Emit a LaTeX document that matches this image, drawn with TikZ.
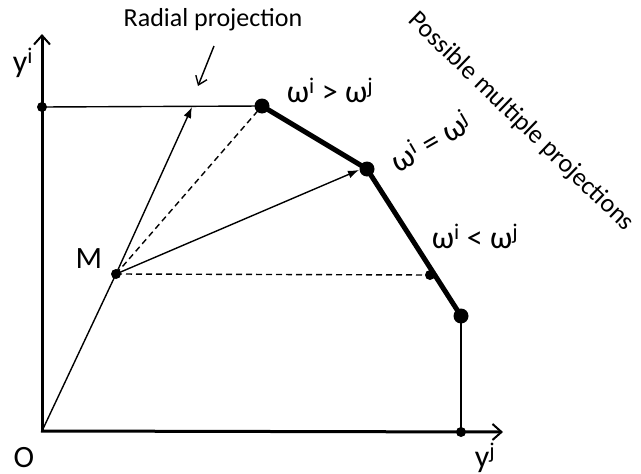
\documentclass[tikz,border=0pt]{standalone}
\usepackage{fontspec}
\setmainfont{Carlito}
\usetikzlibrary{arrows.meta}
\begin{document}
\begin{tikzpicture}[x=1pt,y=-1pt,
  axis/.style={line width=3pt,-{Straight Barb[length=9pt,width=16pt,line width=2pt]}},
  thinline/.style={line width=1.4pt},
  thickline/.style={line width=5pt},
  dashline/.style={line width=1.4pt,dash pattern=on 6pt off 4pt},
  proj/.style={line width=1.4pt,-{Latex[length=11pt,width=8pt]}},
  pointer/.style={line width=1.4pt,-{Straight Barb[length=8pt,width=12pt,line width=1.4pt]}},
  bigdot/.style={circle,fill=black,inner sep=0pt,minimum size=15pt},
  smalldot/.style={circle,fill=black,inner sep=0pt,minimum size=10pt},
  lbl/.style={font=\fontsize{26}{30}\selectfont,inner sep=0pt},
  omlbl/.style={font=\fontsize{32}{36}\selectfont,inner sep=0pt},
  biglbl/.style={font=\fontsize{31}{34}\selectfont,inner sep=0pt}]
\useasboundingbox (0,0) rectangle (641,474);
% points
\coordinate (O) at (42,431);
\coordinate (Ytop) at (42,34);
\coordinate (Xend) at (503,432);
\node[smalldot] (Yi) at (42,107) {};
\node[bigdot] (A) at (262,106) {};
\node[bigdot] (B) at (367,169) {};
\node[bigdot] (C) at (461,316) {};
\node[smalldot] (Xj) at (461,432) {};
\node[smalldot] (M) at (116,274) {};
\node[smalldot] (P) at (430,275) {};
\coordinate (R) at (192,107);
\coordinate (Bt) at (359,170);
% axes
\draw[axis] (42,432) -- (Ytop);
\draw[axis] (41,431) -- (Xend);
% lines
\draw[thinline] (Yi.center) -- (A.center);
\draw[thinline] (C.center) -- (Xj.center);
\draw[thinline] (O) -- (M.center);
\draw[proj] (M.center) -- (R);
\draw[proj] (M.center) -- (Bt);
\draw[dashline] (M.center) -- (A.center);
\draw[dashline] (M.center) -- (P.center);
\draw[thickline,line join=round] (A.center) -- (B.center) -- (C.center);
% labels
\node[biglbl] (lO) at (24,458) {O};
\node[biglbl] (lM) at (89,259) {M};
\node[omlbl] (lyi) at (23,63) {y\textsuperscript{i}};
\node[omlbl] (lyj) at (485,458) {y\textsuperscript{j}};
\node[lbl] (lrad) at (213,20) {Radial projection};
\coordinate (radA) at (214,46);
\coordinate (radB) at (198,86);
\draw[pointer] (radA) -- (radB);
\node[omlbl] (lgt) at (330,90) {ω\textsuperscript{i} > ω\textsuperscript{j}};
\node[omlbl,rotate=30] (leq) at (430,141) {ω\textsuperscript{i} = ω\textsuperscript{j}};
\node[omlbl] (llt) at (475,236) {ω\textsuperscript{i} < ω\textsuperscript{j}};
\node[lbl,rotate=-44] (lpos) at (521,122) {Possible multiple projections};
\end{tikzpicture}
\end{document}
